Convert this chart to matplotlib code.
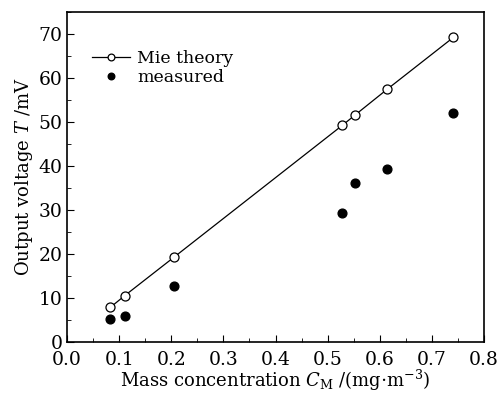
import numpy as np
import matplotlib.pyplot as plt
from matplotlib.ticker import MultipleLocator

plt.rcParams['font.family'] = 'DejaVu Serif'
plt.rcParams['mathtext.fontset'] = 'dejavuserif'

conc = [0.083, 0.111, 0.205, 0.528, 0.553, 0.614, 0.741]
mie = [7.8, 10.5, 19.2, 49.2, 51.6, 57.4, 69.2]
measured = [5.1, 5.9, 12.7, 29.3, 36.0, 39.3, 52.0]

fig = plt.figure(figsize=(4.99, 3.95), dpi=100)
ax = fig.add_axes([67 / 499, 1 - 341.7 / 395, (484 - 67) / 499, (341.7 - 12) / 395])

ax.plot(conc, mie, '-o', color='black', lw=0.9, ms=6.5, mfc='white', mew=0.9,
        label='Mie theory')
ax.plot(conc, measured, 'o', color='black', ms=6.3, ls='none', label='measured')

ax.set_xlim(0, 0.8)
ax.set_ylim(0, 75)
ax.xaxis.set_major_locator(MultipleLocator(0.1))
ax.xaxis.set_minor_locator(MultipleLocator(0.05))
ax.yaxis.set_major_locator(MultipleLocator(10))
ax.yaxis.set_minor_locator(MultipleLocator(5))
ax.tick_params(which='both', direction='in', top=False, right=False, labelsize=13.5)
ax.tick_params(axis='y', pad=3)
ax.tick_params(axis='x', pad=7)
ax.tick_params(which='major', length=5)
ax.tick_params(which='minor', length=3)
for s in ax.spines.values():
    s.set_linewidth(1.2)

ax.set_xlabel(r'Mass concentration $C_\mathrm{M}$ /(mg$\cdot$m$^{-3}$)', fontsize=13, labelpad=-1)
ax.set_ylabel(r'Output voltage $T$ /mV', fontsize=13, labelpad=3)

ax.legend(loc='upper left', bbox_to_anchor=(0.06, 0.885), frameon=False, fontsize=12.5,
          handlelength=2.2, handletextpad=0.4, labelspacing=0.1, borderaxespad=0,
          borderpad=0, markerscale=0.75)

fig.savefig('out.png', dpi=100)
